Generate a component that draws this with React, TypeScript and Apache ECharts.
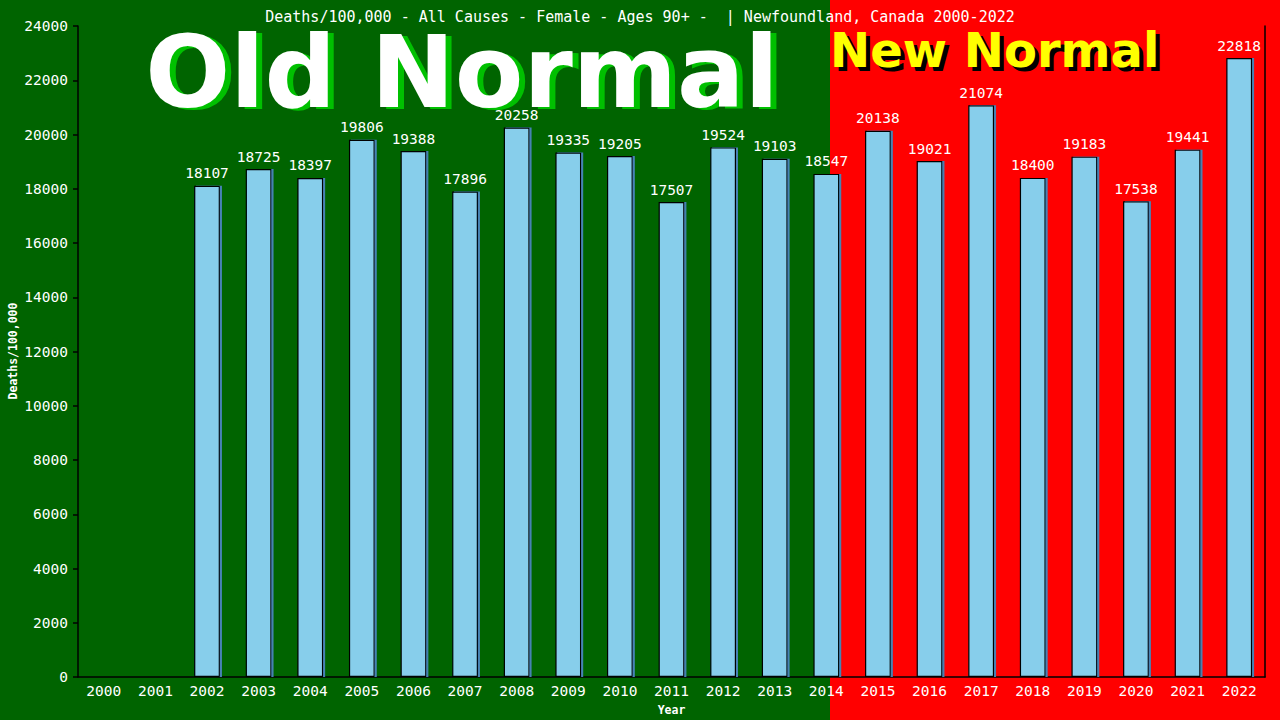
import React, { useEffect, useRef } from "react";
import * as echarts from "echarts";

const years = [
  "2000", "2001", "2002", "2003", "2004", "2005", "2006", "2007", "2008", "2009", "2010", "2011",
  "2012", "2013", "2014", "2015", "2016", "2017", "2018", "2019", "2020", "2021", "2022",
];
const deaths: (number | null)[] = [
  null, null, 18107, 18725, 18397, 19806, 19388, 17896, 20258, 19335, 19205, 17507,
  19524, 19103, 18547, 20138, 19021, 21074, 18400, 19183, 17538, 19441, 22818,
];
const titleText = "Deaths/100,000 - All Causes - Female - Ages 90+ -  | Newfoundland, Canada 2000-2022";
const yAxisName = "Deaths/100,000";

const MONO = "'DejaVu Sans Mono', 'Liberation Mono', monospace";
const BIG = "'DejaVu Sans', Verdana, sans-serif";

export default function App() {
  const ref = useRef<HTMLDivElement>(null);
  useEffect(() => {
    document.body.style.margin = "0";
    const chart = echarts.init(ref.current!, null, { renderer: "svg" });
    chart.setOption({
      animation: false,
      backgroundColor: "#006400",
      title: {
        text: titleText,
        left: "center",
        top: 4,
        textStyle: { color: "#fff", fontFamily: MONO, fontSize: 15, fontWeight: "normal" },
      },
      graphic: [
        { type: "rect", z: -10, shape: { x: 830, y: 0, width: 450, height: 720 }, style: { fill: "#ff0000" } },
        {
          type: "text", z: -5, x: 468, y: 124,
          style: { text: "Old Normal", fill: "#00c000", font: `bold 100px ${BIG}`, textAlign: "center", textVerticalAlign: "bottom" },
        },
        {
          type: "text", z: -4, x: 462, y: 122,
          style: { text: "Old Normal", fill: "#ffffff", font: `bold 100px ${BIG}`, textAlign: "center", textVerticalAlign: "bottom" },
        },
        {
          type: "text", z: -5, x: 834, y: 78,
          style: { text: "New Normal", fill: "#000000", font: `bold 48px ${BIG}`, textAlign: "left", textVerticalAlign: "bottom" },
        },
        {
          type: "text", z: -4, x: 830, y: 74,
          style: { text: "New Normal", fill: "#ffff00", font: `bold 48px ${BIG}`, textAlign: "left", textVerticalAlign: "bottom" },
        },
        {
          type: "text", x: 13, y: 351, rotation: Math.PI / 2,
          style: { text: yAxisName, fill: "#ffffff", font: `bold 11.5px ${MONO}`, textAlign: "center", textVerticalAlign: "middle" },
        },
      ],
      grid: { left: 78, right: 15, top: 26, bottom: 43, containLabel: false, outerBoundsMode: "none" },
      xAxis: {
        type: "category",
        data: years,
        name: "Year",
        nameLocation: "middle",
        nameGap: 27,
        nameTextStyle: { color: "#fff", fontFamily: MONO, fontSize: 11.5, fontWeight: "bold" },
        axisLine: { show: true, lineStyle: { color: "#000", width: 1.5 } },
        axisTick: { show: false },
        axisLabel: { color: "#fff", fontFamily: MONO, fontSize: 14.5, margin: 6 },
        splitLine: { show: false },
      },
      yAxis: [
        {
          type: "value",
          min: 0,
          max: 24000,
          interval: 2000,
          axisLine: { show: true, lineStyle: { color: "#000", width: 1.5 } },
          axisTick: { show: true, length: 5, lineStyle: { color: "#000", width: 1.5 } },
          axisLabel: { color: "#fff", fontFamily: MONO, fontSize: 14.5, margin: 10, formatter: (v: number) => String(v) },
          splitLine: { show: false },
        },
        {
          type: "value",
          min: 0,
          max: 24000,
          interval: 2000,
          position: "right",
          axisLine: { show: true, lineStyle: { color: "#000", width: 1.5 } },
          axisTick: { show: false },
          axisLabel: { show: false },
          splitLine: { show: false },
        },
      ],
      series: [
        {
          type: "bar",
          data: deaths,
          barWidth: "50%",
          itemStyle: {
            color: "#87ceeb",
            borderColor: "#000",
            borderWidth: 1.2,
            shadowColor: "#4682b4",
            shadowOffsetX: 2,
            shadowOffsetY: 0,
            shadowBlur: 0,
          },
          label: {
            show: true,
            position: "top",
            distance: 5,
            color: "#fff",
            fontFamily: MONO,
            fontSize: 14.5,
          },
        },
      ],
    });
    return () => chart.dispose();
  }, []);
  return <div ref={ref} style={{ width: 1280, height: 720 }} />;
}
